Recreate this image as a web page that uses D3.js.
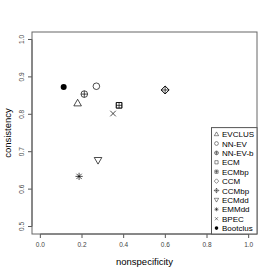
<!DOCTYPE html>
<html>
<head>
<meta charset="utf-8">
<script src="https://cdn.jsdelivr.net/npm/d3@7"></script>
<style>
  body { margin: 0; background: #fff; }
  text { font-family: "Liberation Sans", Arial, sans-serif; }
</style>
</head>
<body>
<script>
const methods = ['EVCLUS', 'NN-EV', 'NN-EV-b', 'ECM', 'ECMbp', 'CCM', 'CCMbp', 'ECMdd', 'EMMdd', 'BPEC', 'Bootclus']
const pchs = [2, 1, 10, 0, 12, 5, 9, 6, 8, 4, 16]
const nonspecificity = [0.179, 0.269, 0.211, 0.378, 0.378, 0.599, 0.599, 0.277, 0.186, 0.349, 0.112]
const consistency = [0.830, 0.875, 0.854, 0.824, 0.824, 0.865, 0.865, 0.677, 0.634, 0.802, 0.873]
const xTicks = [0.0, 0.2, 0.4, 0.6, 0.8, 1.0]
const yTicks = [0.5, 0.6, 0.7, 0.8, 0.9, 1.0]

const width = 274, height = 274
const box = { left: 32, right: 257, top: 32, bottom: 234 }

const svg = d3.select('body').append('svg')
    .attr('width', width)
    .attr('height', height)

const x = d3.scaleLinear().domain([-0.04, 1.04]).range([box.left, box.right])
const y = d3.scaleLinear().domain([0.48, 1.02]).range([box.bottom, box.top])

// R-ish plotting characters, s = half size
function pchPath(pch, s) {
    const p = d3.path()
    const circle = r => { p.moveTo(r, 0); p.arc(0, 0, r, 0, 2 * Math.PI) }
    const plus = r => { p.moveTo(-r, 0); p.lineTo(r, 0); p.moveTo(0, -r); p.lineTo(0, r) }
    const cross = r => { p.moveTo(-r, -r); p.lineTo(r, r); p.moveTo(-r, r); p.lineTo(r, -r) }
    const square = r => { p.rect(-r, -r, 2 * r, 2 * r) }
    const diamond = r => { p.moveTo(0, -r); p.lineTo(r, 0); p.lineTo(0, r); p.lineTo(-r, 0); p.closePath() }
    switch (pch) {
        case 0: square(s * 0.85); break
        case 1: circle(s); break
        case 2: p.moveTo(0, -s * 1.15); p.lineTo(s * 1.15, s * 0.85); p.lineTo(-s * 1.15, s * 0.85); p.closePath(); break
        case 4: cross(s * 0.85); break
        case 5: diamond(s * 1.2); break
        case 6: p.moveTo(0, s * 1.15); p.lineTo(s * 1.15, -s * 0.85); p.lineTo(-s * 1.15, -s * 0.85); p.closePath(); break
        case 8: plus(s * 1.1); cross(s * 0.8); break
        case 9: diamond(s * 1.2); plus(s * 1.2); break
        case 10: circle(s); plus(s); break
        case 12: square(s * 0.85); plus(s * 0.85); break
        case 16: circle(s); break
    }
    return p.toString()
}

function drawPch(sel, pch, s, sw) {
    sel.append('path')
        .attr('d', pchPath(pch, s))
        .attr('fill', pch === 16 ? '#000' : 'none')
        .attr('stroke', '#000')
        .attr('stroke-width', pch === 16 ? 0 : sw)
}

// axes
const xAxis = svg.append('g').attr('transform', `translate(0,${box.bottom})`)
xAxis.append('line')
    .attr('x1', x(xTicks[0])).attr('x2', x(xTicks[xTicks.length - 1]))
    .attr('stroke', '#555')
xAxis.selectAll('line.tick').data(xTicks).enter().append('line')
    .attr('class', 'tick')
    .attr('x1', d => x(d)).attr('x2', d => x(d))
    .attr('y1', 0).attr('y2', 4)
    .attr('stroke', '#555')
xAxis.selectAll('text').data(xTicks).enter().append('text')
    .attr('x', d => x(d)).attr('y', 13)
    .attr('text-anchor', 'middle')
    .attr('font-size', 6.5)
    .attr('fill', '#444')
    .text(d => d.toFixed(1))

const yAxis = svg.append('g').attr('transform', `translate(${box.left},0)`)
yAxis.append('line')
    .attr('y1', y(yTicks[0])).attr('y2', y(yTicks[yTicks.length - 1]))
    .attr('stroke', '#555')
yAxis.selectAll('line.tick').data(yTicks).enter().append('line')
    .attr('class', 'tick')
    .attr('y1', d => y(d)).attr('y2', d => y(d))
    .attr('x1', 0).attr('x2', -4)
    .attr('stroke', '#555')
yAxis.selectAll('text').data(yTicks).enter().append('text')
    .attr('transform', d => `translate(-8,${y(d)}) rotate(-90)`)
    .attr('text-anchor', 'middle')
    .attr('font-size', 6.5)
    .attr('fill', '#444')
    .text(d => d.toFixed(1))

svg.append('rect')
    .attr('x', box.left).attr('y', box.top)
    .attr('width', box.right - box.left).attr('height', box.bottom - box.top)
    .attr('fill', 'none')
    .attr('stroke', '#666')

svg.append('text')
    .attr('x', (box.left + box.right) / 2).attr('y', 265)
    .attr('text-anchor', 'middle')
    .attr('font-size', 9.5)
    .text('nonspecificity')

svg.append('text')
    .attr('transform', `translate(11,${(box.top + box.bottom) / 2}) rotate(-90)`)
    .attr('text-anchor', 'middle')
    .attr('font-size', 9.5)
    .text('consistency')

// points
methods.forEach((m, i) => {
    const g = svg.append('g')
        .attr('transform', `translate(${x(nonspecificity[i])},${y(consistency[i])})`)
    drawPch(g, pchs[i], pchs[i] === 16 ? 3 : 3.3, 0.7)
})

// legend, bottom right inside the box
const rowH = 9.4
const legH = rowH * methods.length + 3
const legend = svg.append('g')
legend.append('rect')
    .attr('x', 211.5).attr('y', box.bottom - legH)
    .attr('width', box.right - 211.5).attr('height', legH)
    .attr('fill', '#fff')
    .attr('stroke', '#555')
methods.forEach((m, i) => {
    const cy = box.bottom - legH + 6.5 + i * rowH
    const g = legend.append('g').attr('transform', `translate(216.5,${cy})`)
    drawPch(g, pchs[i], pchs[i] === 16 ? 1.8 : 1.9, 0.45)
    legend.append('text')
        .attr('x', 222).attr('y', cy + 3)
        .attr('font-size', 8)
        .text(m)
})
</script>
</body>
</html>
